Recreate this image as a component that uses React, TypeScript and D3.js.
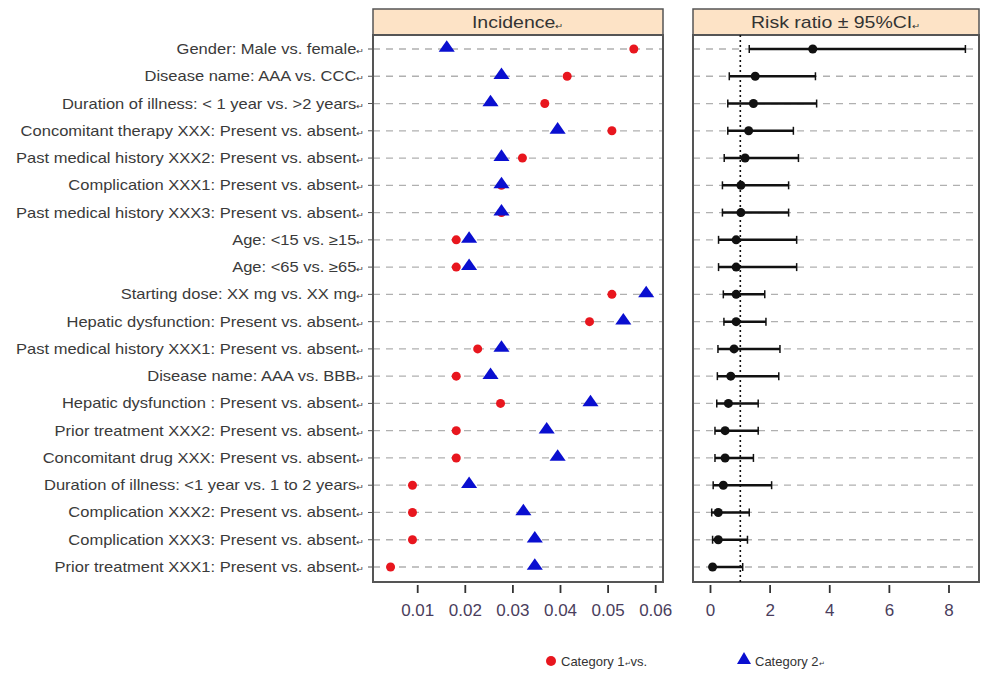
import React from "react";
import * as d3 from "d3";

const labels = [
  "Gender: Male vs. female",
  "Disease name: AAA vs. CCC",
  "Duration of illness: < 1 year vs. >2 years",
  "Concomitant therapy XXX: Present vs. absent",
  "Past medical history XXX2: Present vs. absent",
  "Complication XXX1: Present vs. absent",
  "Past medical history XXX3: Present vs. absent",
  "Age: <15 vs. ≥15",
  "Age: <65 vs. ≥65",
  "Starting dose: XX mg vs. XX mg",
  "Hepatic dysfunction: Present vs. absent",
  "Past medical history XXX1: Present vs. absent",
  "Disease name: AAA vs. BBB",
  "Hepatic dysfunction : Present vs. absent",
  "Prior treatment XXX2: Present vs. absent",
  "Concomitant drug XXX: Present vs. absent",
  "Duration of illness: <1 year vs. 1 to 2 years",
  "Complication XXX2: Present vs. absent",
  "Complication XXX3: Present vs. absent",
  "Prior treatment XXX1: Present vs. absent",
];

// incidence, category 1 (red dots) and category 2 (blue triangles)
const cat1 = [0.0554, 0.0414, 0.0367, 0.0508, 0.032, 0.0276, 0.0276, 0.0181, 0.0181, 0.0508,
  0.0461, 0.0226, 0.0181, 0.0274, 0.0181, 0.0181, 0.0089, 0.0089, 0.0089, 0.0043];
const cat2 = [0.0161, 0.0276, 0.0253, 0.0394, 0.0276, 0.0276, 0.0276, 0.0208, 0.0208, 0.058,
  0.0532, 0.0276, 0.0253, 0.0463, 0.0371, 0.0394, 0.0208, 0.0322, 0.0346, 0.0346];

// risk ratio with 95% CI
const rr = [3.43, 1.5, 1.44, 1.28, 1.16, 1.02, 1.02, 0.86, 0.86, 0.86,
  0.86, 0.79, 0.68, 0.6, 0.49, 0.49, 0.43, 0.26, 0.26, 0.07];
const rrLow = [1.3, 0.63, 0.58, 0.58, 0.46, 0.4, 0.4, 0.27, 0.27, 0.43,
  0.45, 0.25, 0.23, 0.21, 0.15, 0.15, 0.09, 0.04, 0.07, 0.07];
const rrHigh = [8.55, 3.52, 3.56, 2.78, 2.95, 2.62, 2.62, 2.89, 2.89, 1.82,
  1.86, 2.33, 2.29, 1.6, 1.6, 1.44, 2.05, 1.3, 1.24, 1.08];

const incTicks = [0.01, 0.02, 0.03, 0.04, 0.05, 0.06];
const rrTicks = [0, 2, 4, 6, 8];

const P1 = { left: 373, right: 663 };
const P2 = { left: 693, right: 979 };
const headTop = 9, headBot = 35, plotBot = 582;

export default function App() {
  const y = d3.scaleLinear().domain([0, labels.length - 1]).range([49, 567]);
  const xInc = d3.scaleLinear().domain([0, 0.06]).range([370.1, 655.7]);
  const xRR = d3.scaleLinear().domain([0, 8]).range([710.5, 949]);
  const tri = d3.symbol().type(d3.symbolTriangle).size(85)()!;
  const font = "'Liberation Sans', Arial, sans-serif";
  const labelColor = "#3a3a3a";
  const tickColor = "#4a3d5c";

  const panel = (p: { left: number; right: number }, title: string) => (
    <g>
      <rect x={p.left} y={headTop} width={p.right - p.left} height={headBot - headTop}
        fill="#fde3c6" stroke="#555" strokeWidth={1.5} />
      <text transform={`translate(${(p.left + p.right) / 2},28) scale(1.22,1)`} textAnchor="middle"
        fontSize={16} fill="#333" fontFamily={font}>
        {title}<tspan fontSize={8} dy={1}>↵</tspan>
      </text>
      {labels.map((_, i) => (
        <line key={i} x1={p.left} x2={p.right} y1={y(i)} y2={y(i)} stroke="#b0b0b0"
          strokeWidth={1.3} strokeDasharray="7,6" />
      ))}
      <rect x={p.left} y={headBot} width={p.right - p.left} height={plotBot - headBot}
        fill="none" stroke="#555" strokeWidth={2} />
    </g>
  );

  return (
    <svg width={981} height={673} style={{ position: "absolute", left: 0, top: 0, background: "#fff" }}>
      {panel(P1, "Incidence")}
      {panel(P2, "Risk ratio ± 95%CI")}

      {labels.map((l, i) => (
        <g key={l + i}>
          <line x1={P1.left - 5} x2={P1.left} y1={y(i)} y2={y(i)} stroke="#555" strokeWidth={1} />
          <text transform={`translate(365,${y(i) + 5}) scale(1.18,1)`} textAnchor="end" fontSize={14}
            fill={labelColor} fontFamily={font}>
            {l}<tspan fontSize={8}>↵</tspan>
          </text>
        </g>
      ))}

      {cat1.map((v, i) => (
        <circle key={"c" + i} cx={xInc(v)} cy={y(i)} r={4.5} fill="#e8161e" />
      ))}
      {cat2.map((v, i) => (
        <path key={"t" + i} d={tri} transform={`translate(${xInc(v)},${y(i) - 1}) scale(1.15,0.95)`} fill="#0a0fd0" />
      ))}

      <line x1={xRR(1)} x2={xRR(1)} y1={headBot} y2={plotBot} stroke="#111" strokeWidth={1.6} strokeDasharray="2,3" />
      {rr.map((v, i) => (
        <g key={"r" + i}>
          <line x1={xRR(rrLow[i])} x2={xRR(rrHigh[i])} y1={y(i)} y2={y(i)} stroke="#111" strokeWidth={2.5} />
          <line x1={xRR(rrLow[i])} x2={xRR(rrLow[i])} y1={y(i) - 4} y2={y(i) + 4} stroke="#111" strokeWidth={1.5} />
          <line x1={xRR(rrHigh[i])} x2={xRR(rrHigh[i])} y1={y(i) - 4} y2={y(i) + 4} stroke="#111" strokeWidth={1.5} />
          <circle cx={xRR(v)} cy={y(i)} r={4.5} fill="#111" />
        </g>
      ))}

      {incTicks.map((t) => (
        <g key={"it" + t}>
          <line x1={xInc(t)} x2={xInc(t)} y1={plotBot + 3} y2={plotBot + 11} stroke="#333" strokeWidth={1.8} />
          <text x={xInc(t)} y={616} textAnchor="middle" fontSize={17} fill={tickColor} fontFamily={font}>
            {d3.format(".2f")(t)}
          </text>
        </g>
      ))}
      {rrTicks.map((t) => (
        <g key={"rt" + t}>
          <line x1={xRR(t)} x2={xRR(t)} y1={plotBot + 3} y2={plotBot + 11} stroke="#333" strokeWidth={1.8} />
          <text x={xRR(t)} y={616} textAnchor="middle" fontSize={17} fill={tickColor} fontFamily={font}>
            {t}
          </text>
        </g>
      ))}

      <circle cx={551} cy={661} r={5} fill="#e8161e" />
      <text x={561} y={666} fontSize={13} fill="#333" fontFamily={font}>
        Category 1<tspan fontSize={7}>↵</tspan>vs.
      </text>
      <path d={tri} transform={`translate(744,660)`} fill="#0a0fd0" />
      <text x={755} y={666} fontSize={13} fill="#333" fontFamily={font}>
        Category 2<tspan fontSize={7}>↵</tspan>
      </text>
    </svg>
  );
}
